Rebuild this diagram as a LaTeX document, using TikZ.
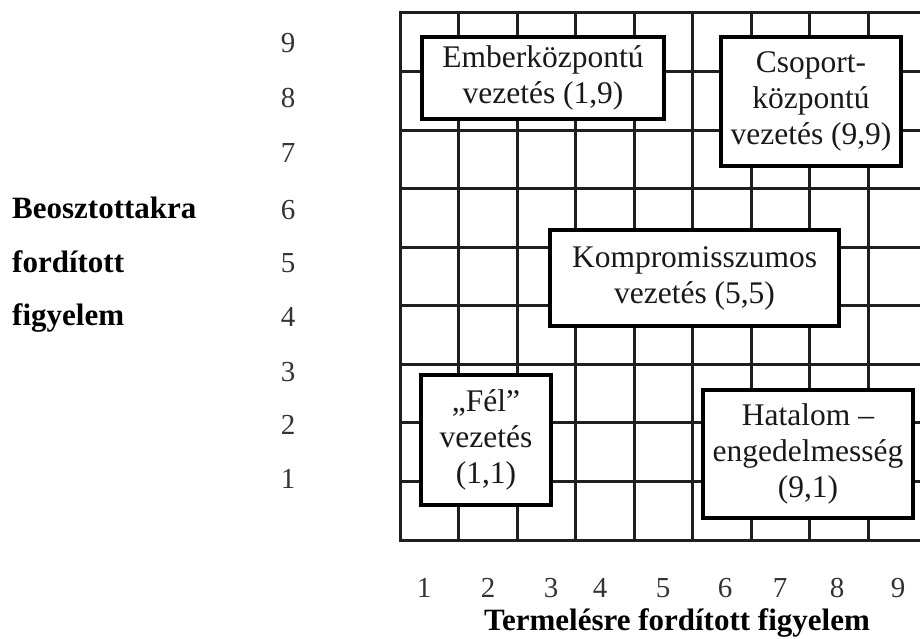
\documentclass[tikz,border=0pt]{standalone}
\usepackage{fontspec}
\setmainfont{Liberation Serif}
\tikzset{
  gridline/.style={line width=3pt, draw=black!88, line cap=rect},
  stylebox/.style={draw, line width=3.8pt, fill=white, align=center,
    inner sep=0pt, font=\fontsize{31.5}{36}\selectfont, text=black!90},
  scalenum/.style={font=\fontsize{29}{30}\selectfont, text=black!80},
  axislabel/.style={font=\fontsize{31}{32}\selectfont\bfseries, inner sep=0pt},
}
\begin{document}
\begin{tikzpicture}[x=1pt,y=-1pt]
  \useasboundingbox (0,0) rectangle (920,639);
  \clip (0,0) rectangle (920,639);
  \foreach \i in {0,...,9}
    \draw[gridline] ({400+58.5*\i},13) -- ({400+58.5*\i},540);
  \foreach \j in {0,...,9}
    \draw[gridline] (400,{13+58.56*\j}) -- (930,{13+58.56*\j});

  \node[stylebox, minimum width=242pt, minimum height=82pt] (ember) at (543,78)
    {Emberközpontú\\vezetés (1,9)};
  \node[stylebox, minimum width=180pt, minimum height=129pt] (csoport) at (811,101.5)
    {Csoport-\\központú\\vezetés (9,9)};
  \node[stylebox, minimum width=289pt, minimum height=96pt] (kompro) at (694.5,278)
    {Kompromisszumos\\vezetés (5,5)};
  \node[stylebox, minimum width=130pt, minimum height=130pt] (fel) at (486,440)
    {„Fél”\\vezetés\\(1,1)};
  \node[stylebox, minimum width=210pt, minimum height=128pt] (hatalom) at (808,454)
    {Hatalom --\\engedelmesség\\(9,1)};

  \foreach \n/\y in {9/43,8/98,7/153,6/210,5/263,4/317,3/372,2/425,1/479}
    \node[scalenum] (row\n) at (288,\y) {\n};
  \foreach \n/\x in {1/424,2/488,3/551,4/600,5/663,6/725,7/780,8/837,9/898}
    \node[scalenum] (col\n) at (\x,588) {\n};

  \node[axislabel, anchor=base west] (beo) at (12,218) {Beosztottakra};
  \node[axislabel, anchor=base west] (ford) at (12,272) {fordított};
  \node[axislabel, anchor=base west] (figy) at (12,325) {figyelem};
  \node[axislabel, anchor=base] (term) at (677,630) {Termelésre fordított figyelem};
\end{tikzpicture}
\end{document}
